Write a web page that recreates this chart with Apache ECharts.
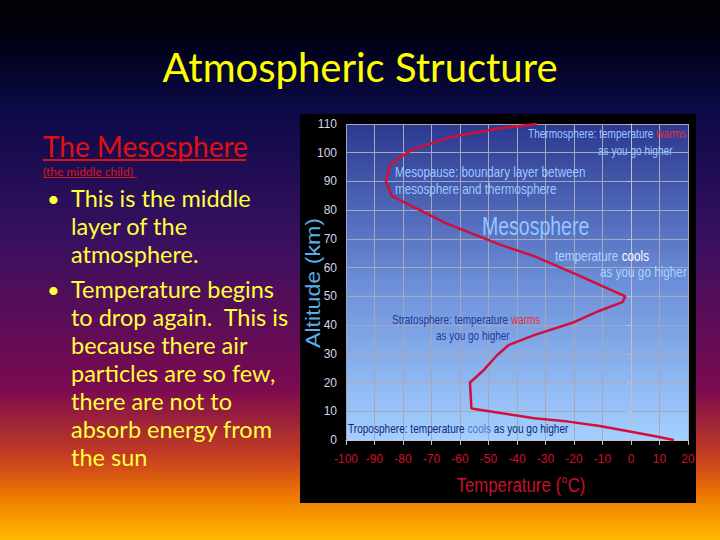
<!DOCTYPE html>
<html>
<head>
<meta charset="utf-8">
<script src="https://cdn.jsdelivr.net/npm/echarts@6/dist/echarts.min.js"></script>
<style>
html,body{margin:0;padding:0;background:#000;}
#c{width:720px;height:540px;}
</style>
</head>
<body>
<div id="c"></div>
<script>
// ---- data ----
const temperatureC = [15, 8, 1, -11, -22, -34, -40, -56, -56.5, -52, -47, -43, -34, -20, -11, -3, -2, -11, -20, -34, -46, -65, -76, -84, -86, -84.5, -77, -63, -46, -33];
const altitudeKm   = [0, 1.4, 2.7, 4.9, 6.4, 7.6, 8.5, 11, 20, 24, 29.5, 33, 36.5, 41, 45, 48, 50, 54, 58, 64, 68, 75.5, 81, 85, 90, 96, 101, 105.5, 108.5, 110];
const xTicks = [-100, -90, -80, -70, -60, -50, -40, -30, -20, -10, 0, 10, 20];
const yTicks = [0, 10, 20, 30, 40, 50, 60, 70, 80, 90, 100, 110];
const titleText = 'Atmospheric Structure';
const headingText = 'The Mesosphere';
const subText = '(the middle child)';
const xName = 'Temperature (°C)';
const yName = 'Altitude (km)';
const bulletLines = [
  ['This is the middle', 'layer of the', 'atmosphere.'],
  ['Temperature begins', 'to drop again.  This is', 'because there air', 'particles are so few,', 'there are not to', 'absorb energy from', 'the sun']
];

const profile = temperatureC.map((t, i) => [t, altitudeKm[i]]);

const sans = "'Liberation Sans', Arial, sans-serif";
const slideFont = "Lato, 'Open Sans', sans-serif";

const chart = echarts.init(document.getElementById('c'), null, {renderer: 'svg'});

const graphics = [
  {type: 'rect', z: -20, silent: true, shape: {x: 0, y: 0, width: 720, height: 540},
   style: {fill: new echarts.graphic.LinearGradient(0, 0, 0, 1, [
     {offset: 0, color: '#030305'},
     {offset: 0.06, color: '#00000f'},
     {offset: 0.2, color: '#0a0a48'},
     {offset: 0.45, color: '#3a1060'},
     {offset: 0.72, color: '#7a0a50'},
     {offset: 0.85, color: '#c84020'},
     {offset: 0.92, color: '#ef7a00'},
     {offset: 1, color: '#ffbb00'}
   ])}},
  {type: 'rect', z: -10, silent: true, shape: {x: 300, y: 114, width: 396, height: 389}, style: {fill: '#000'}},
  {type: 'text', z: 50, style: {text: titleText, x: 360, y: 67, align: 'center', verticalAlign: 'middle',
    fill: '#ffff00', font: "40px " + slideFont}},
  {type: 'text', z: 50, style: {text: headingText, x: 43, y: 146, verticalAlign: 'middle',
    fill: '#e01010', font: "28px " + slideFont}},
  {type: 'rect', z: 50, shape: {x: 43, y: 159, width: 203, height: 2}, style: {fill: '#e01010'}},
  {type: 'text', z: 50, style: {text: subText, x: 43, y: 171, verticalAlign: 'middle',
    fill: '#d81818', font: "12px " + slideFont}},
  {type: 'rect', z: 50, shape: {x: 43, y: 177, width: 94, height: 1}, style: {fill: '#d81818'}},
  // axis names drawn as text with custom width
  {type: 'text', z: 50, x: 521, y: 485, scaleX: 0.8, style: {text: xName, x: 0, y: 0, align: 'center', verticalAlign: 'middle',
    fill: '#c8102a', font: "21px " + sans}},
  {type: 'text', z: 50, x: 313, y: 283, rotation: Math.PI / 2, scaleX: 1.16, style: {text: yName, x: 0, y: 0, align: 'center', verticalAlign: 'middle',
    fill: '#5aaee6', font: "20px " + sans}}
];

let yy = 198;
bulletLines.forEach((group, gi) => {
  if (gi > 0) yy += 7;
  graphics.push({type: 'text', z: 50, style: {text: '•', x: 47, y: yy, verticalAlign: 'middle',
    fill: '#ffff3c', font: "22px " + slideFont}});
  group.forEach(line => {
    graphics.push({type: 'text', z: 50, style: {text: line, x: 71, y: yy, verticalAlign: 'middle',
      fill: '#ffff3c', font: "23.5px " + slideFont}});
    yy += 28;
  });
});

const lightBlue = '#9cc8ff';
const annots = [
  {x: 528, y: 134, text: '{a|Thermosphere: temperature }{r|warms}', c: lightBlue, sx: 0.84},
  {x: 598, y: 151, text: '{a|as you go higher}', c: lightBlue, sx: 0.84},
  {x: 395, y: 172, text: '{a|Mesopause: boundary layer between}', c: lightBlue, fs: 14, sx: 0.83},
  {x: 395, y: 189, text: '{a|mesosphere and thermosphere}', c: lightBlue, fs: 14, sx: 0.83},
  {x: 482, y: 226, text: '{b|Mesosphere}', c: '#90c8ff', sx: 0.75},
  {x: 555, y: 256, text: '{a|temperature }{w|cools}', c: '#a8d4ff', fs: 14, sx: 0.84},
  {x: 600, y: 272, text: '{a|as you go higher}', c: '#a8d4ff', fs: 14, sx: 0.84},
  {x: 392, y: 320, text: '{a|Stratosphere: temperature }{r|warms}', c: '#1e3a9c', sx: 0.83},
  {x: 436, y: 336, text: '{a|as you go higher}', c: '#1e3a9c', sx: 0.83},
  {x: 348, y: 429, text: '{a|Troposphere: temperature }{l|cools}{a| as you go higher}', c: '#10287a', sx: 0.84}
];
annots.forEach(a => {
  const fs = a.fs || 12;
  graphics.push({type: 'text', z: 60, x: a.x, y: a.y, scaleX: a.sx, style: {
    text: a.text, x: 0, y: 0, verticalAlign: 'middle',
    rich: {
      a: {fill: a.c, fontSize: fs, fontFamily: sans},
      r: {fill: '#e03040', fontSize: fs, fontFamily: sans},
      w: {fill: '#ffffff', fontSize: fs, fontFamily: sans},
      l: {fill: '#4a78c8', fontSize: fs, fontFamily: sans},
      b: {fill: a.c, fontSize: 26, fontFamily: sans}
    }
  }});
});

const option = {
  animation: false,
  grid: {
    left: 346, right: 32, top: 124, bottom: 100, show: true, borderWidth: 0,
    backgroundColor: new echarts.graphic.LinearGradient(0, 0, 0, 1, [
      {offset: 0, color: '#2c3890'},
      {offset: 0.5, color: '#6c8ed8'},
      {offset: 1, color: '#a4d0ff'}
    ])
  },
  xAxis: {
    type: 'value', min: xTicks[0], max: xTicks[xTicks.length - 1], interval: 10,
    axisLine: {show: true, lineStyle: {color: '#c0c0c8', width: 1}},
    axisTick: {show: true, length: 5, inside: false, lineStyle: {color: '#c0c0c8'}},
    axisLabel: {color: '#d0102a', fontSize: 12, fontFamily: sans, margin: 13,
      formatter: v => xTicks.includes(v) ? String(v) : ''},
    splitLine: {show: true, lineStyle: {color: '#a4a8b8', width: 1}}
  },
  yAxis: {
    type: 'value', min: yTicks[0], max: yTicks[yTicks.length - 1], interval: 10,
    axisLine: {show: true, lineStyle: {color: '#c0c0c8', width: 1}},
    axisTick: {show: true, length: 4, lineStyle: {color: '#c0c0c8'}},
    axisLabel: {color: '#d4d4e0', fontSize: 12, fontFamily: sans, margin: 9,
      formatter: v => yTicks.includes(v) ? String(v) : ''},
    splitLine: {show: true, lineStyle: {color: '#a4a8b8', width: 1}}
  },
  series: [{
    type: 'line', data: profile, showSymbol: false, symbol: 'none', smooth: false,
    lineStyle: {color: '#d0103a', width: 2.5}, clip: true, z: 5
  }],
  graphic: graphics
};
chart.setOption(option);
</script>
</body>
</html>
